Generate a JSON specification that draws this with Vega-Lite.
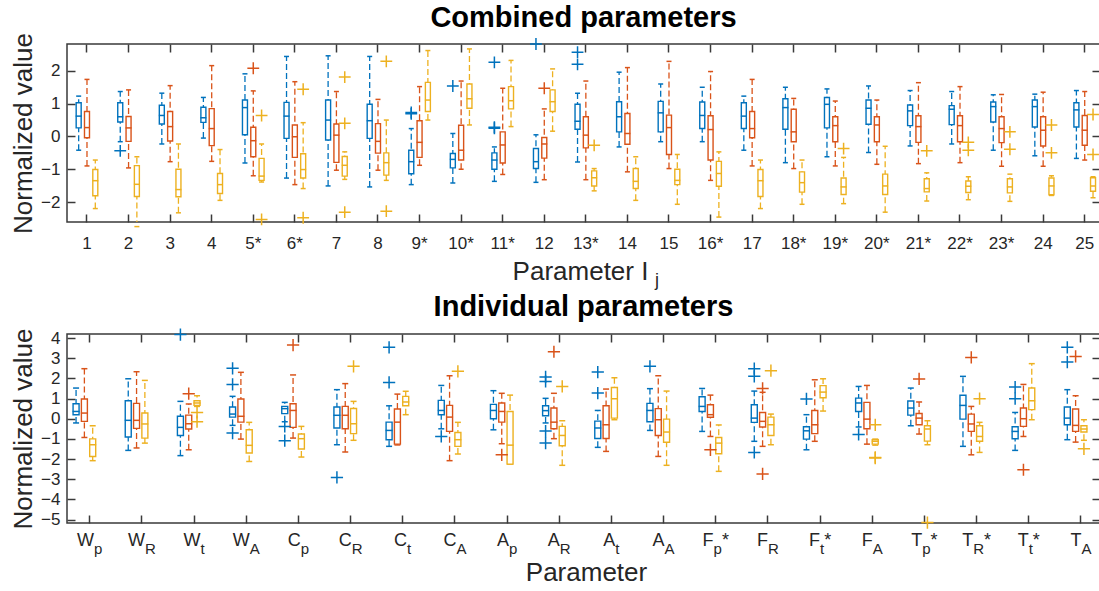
{
"$schema":"https://vega.github.io/schema/vega-lite/v6.json",
"padding":{"left":9,"top":2,"right":0,"bottom":0},
"background":"white",
"config":{"font":"Liberation Sans","view":{"stroke":"#3a3a3a","strokeWidth":1.5},"axis":{"grid":false,"labelFont":"Liberation Sans","titleFont":"Liberation Sans","labelColor":"#262626","titleColor":"#262626","titleFontWeight":"normal","tickColor":"#3a3a3a","tickWidth":1.5,"domain":false,"labelAngle":0,"labelOverlap":false,"labelFlush":false},"title":{"font":"Liberation Sans"}},
"datasets":{
"topStats":[
{"p":"1","s":"S1","lo":-0.42,"q1":0.26,"med":0.62,"q3":1.03,"hi":1.23},
{"p":"1","s":"S2","lo":-0.9,"q1":-0.04,"med":0.27,"q3":0.76,"hi":1.74},
{"p":"1","s":"S3","lo":-2.2,"q1":-1.81,"med":-1.35,"q3":-1.01,"hi":-0.72},
{"p":"2","s":"S1","lo":-0.16,"q1":0.44,"med":0.6,"q3":1.03,"hi":1.37},
{"p":"2","s":"S2","lo":-0.96,"q1":-0.15,"med":0.26,"q3":0.61,"hi":1.42},
{"p":"2","s":"S3","lo":-2.75,"q1":-1.83,"med":-1.46,"q3":-0.89,"hi":-0.62},
{"p":"3","s":"S1","lo":-0.23,"q1":0.38,"med":0.64,"q3":0.95,"hi":1.32},
{"p":"3","s":"S2","lo":-0.77,"q1":-0.14,"med":0.3,"q3":0.76,"hi":1.55},
{"p":"3","s":"S3","lo":-2.33,"q1":-1.84,"med":-1.62,"q3":-1.0,"hi":-0.23},
{"p":"4","s":"S1","lo":-0.05,"q1":0.43,"med":0.57,"q3":0.89,"hi":1.19},
{"p":"4","s":"S2","lo":-0.76,"q1":-0.28,"med":0.24,"q3":0.85,"hi":2.16},
{"p":"4","s":"S3","lo":-1.95,"q1":-1.74,"med":-1.47,"q3":-1.13,"hi":-0.4},
{"p":"5*","s":"S1","lo":-0.81,"q1":0.05,"med":0.88,"q3":1.11,"hi":1.91},
{"p":"5*","s":"S2","lo":-1.2,"q1":-0.62,"med":-0.13,"q3":0.28,"hi":1.39},
{"p":"5*","s":"S3","lo":-1.39,"q1":-1.34,"med":-1.21,"q3":-0.67,"hi":-0.23},
{"p":"6*","s":"S1","lo":-1.27,"q1":-0.06,"med":0.62,"q3":1.04,"hi":2.44},
{"p":"6*","s":"S2","lo":-1.47,"q1":-0.64,"med":-0.01,"q3":0.35,"hi":1.67},
{"p":"6*","s":"S3","lo":-1.59,"q1":-1.27,"med":-1.01,"q3":-0.53,"hi":0.42},
{"p":"7","s":"S1","lo":-1.51,"q1":-0.11,"med":0.5,"q3":1.11,"hi":2.46},
{"p":"7","s":"S2","lo":-1.03,"q1":-0.79,"med":0.04,"q3":0.38,"hi":1.37},
{"p":"7","s":"S3","lo":-1.31,"q1":-1.21,"med":-0.88,"q3":-0.61,"hi":-0.47},
{"p":"8","s":"S1","lo":-1.54,"q1":-0.06,"med":0.48,"q3":0.98,"hi":2.44},
{"p":"8","s":"S2","lo":-1.03,"q1":-0.51,"med":-0.15,"q3":0.39,"hi":1.13},
{"p":"8","s":"S3","lo":-1.34,"q1":-1.18,"med":-0.8,"q3":-0.5,"hi":0.5},
{"p":"9*","s":"S1","lo":-1.47,"q1":-1.14,"med":-0.77,"q3":-0.42,"hi":0.24},
{"p":"9*","s":"S2","lo":-0.88,"q1":-0.64,"med":-0.18,"q3":0.48,"hi":1.52},
{"p":"9*","s":"S3","lo":0.5,"q1":0.76,"med":1.11,"q3":1.65,"hi":2.62},
{"p":"10*","s":"S1","lo":-1.42,"q1":-0.96,"med":-0.7,"q3":-0.52,"hi":0.09},
{"p":"10*","s":"S2","lo":-1.0,"q1":-0.72,"med":-0.42,"q3":0.34,"hi":1.69},
{"p":"10*","s":"S3","lo":0.35,"q1":0.86,"med":1.15,"q3":1.6,"hi":2.67},
{"p":"11*","s":"S1","lo":-1.37,"q1":-1.0,"med":-0.72,"q3":-0.5,"hi":-0.32},
{"p":"11*","s":"S2","lo":-1.16,"q1":-0.81,"med":-0.26,"q3":0.14,"hi":1.47},
{"p":"11*","s":"S3","lo":0.3,"q1":0.84,"med":1.09,"q3":1.52,"hi":2.32},
{"p":"12","s":"S1","lo":-1.4,"q1":-0.98,"med":-0.77,"q3":-0.37,"hi":0.05},
{"p":"12","s":"S2","lo":-1.32,"q1":-0.66,"med":-0.23,"q3":-0.03,"hi":0.84},
{"p":"12","s":"S3","lo":0.16,"q1":0.76,"med":1.06,"q3":1.42,"hi":2.06},
{"p":"13*","s":"S1","lo":-0.78,"q1":0.22,"med":0.46,"q3":0.98,"hi":1.32},
{"p":"13*","s":"S2","lo":-1.32,"q1":-0.35,"med":0.04,"q3":0.6,"hi":1.69},
{"p":"13*","s":"S3","lo":-1.66,"q1":-1.51,"med":-1.26,"q3":-1.05,"hi":-0.98},
{"p":"14","s":"S1","lo":-0.32,"q1":0.14,"med":0.6,"q3":1.06,"hi":1.96},
{"p":"14","s":"S2","lo":-1.08,"q1":-0.24,"med":0.09,"q3":0.7,"hi":2.1},
{"p":"14","s":"S3","lo":-1.95,"q1":-1.59,"med":-1.37,"q3":-0.98,"hi":-0.62},
{"p":"15","s":"S1","lo":-0.16,"q1":0.14,"med":0.72,"q3":1.07,"hi":1.6},
{"p":"15","s":"S2","lo":-0.98,"q1":-0.55,"med":0.27,"q3":0.65,"hi":2.29},
{"p":"15","s":"S3","lo":-2.07,"q1":-1.47,"med":-1.34,"q3":-1.0,"hi":-0.55},
{"p":"16*","s":"S1","lo":-0.16,"q1":0.24,"med":0.64,"q3":1.05,"hi":1.5},
{"p":"16*","s":"S2","lo":-1.34,"q1":-0.72,"med":0.21,"q3":0.63,"hi":1.98},
{"p":"16*","s":"S3","lo":-2.46,"q1":-1.52,"med":-1.13,"q3":-0.76,"hi":-0.47},
{"p":"17","s":"S1","lo":-0.42,"q1":0.24,"med":0.62,"q3":1.03,"hi":1.23},
{"p":"17","s":"S2","lo":-0.9,"q1":-0.04,"med":0.24,"q3":0.76,"hi":1.74},
{"p":"17","s":"S3","lo":-2.2,"q1":-1.83,"med":-1.35,"q3":-1.01,"hi":-0.72},
{"p":"18*","s":"S1","lo":-0.8,"q1":0.22,"med":0.88,"q3":1.15,"hi":1.5},
{"p":"18*","s":"S2","lo":-0.98,"q1":-0.16,"med":0.14,"q3":0.83,"hi":1.16},
{"p":"18*","s":"S3","lo":-2.07,"q1":-1.7,"med":-1.41,"q3":-1.08,"hi":-0.72},
{"p":"19*","s":"S1","lo":-0.62,"q1":0.26,"med":0.98,"q3":1.19,"hi":1.45},
{"p":"19*","s":"S2","lo":-0.9,"q1":-0.16,"med":0.33,"q3":0.6,"hi":1.08},
{"p":"19*","s":"S3","lo":-2.05,"q1":-1.77,"med":-1.54,"q3":-1.27,"hi":-0.64},
{"p":"20*","s":"S1","lo":-0.49,"q1":0.37,"med":0.86,"q3":1.11,"hi":1.54},
{"p":"20*","s":"S2","lo":-0.85,"q1":-0.16,"med":0.35,"q3":0.6,"hi":1.11},
{"p":"20*","s":"S3","lo":-2.31,"q1":-1.77,"med":-1.51,"q3":-1.15,"hi":-0.3},
{"p":"21*","s":"S1","lo":-0.29,"q1":0.33,"med":0.78,"q3":0.96,"hi":1.4},
{"p":"21*","s":"S2","lo":-0.83,"q1":-0.18,"med":0.3,"q3":0.63,"hi":1.64},
{"p":"21*","s":"S3","lo":-1.97,"q1":-1.69,"med":-1.59,"q3":-1.29,"hi":-1.11},
{"p":"22*","s":"S1","lo":-0.23,"q1":0.36,"med":0.83,"q3":0.94,"hi":1.37},
{"p":"22*","s":"S2","lo":-0.8,"q1":-0.16,"med":0.33,"q3":0.63,"hi":1.52},
{"p":"22*","s":"S3","lo":-1.93,"q1":-1.71,"med":-1.52,"q3":-1.36,"hi":-1.23},
{"p":"23*","s":"S1","lo":-0.42,"q1":0.44,"med":0.91,"q3":1.05,"hi":1.27},
{"p":"23*","s":"S2","lo":-0.91,"q1":-0.19,"med":0.24,"q3":0.6,"hi":1.28},
{"p":"23*","s":"S3","lo":-1.98,"q1":-1.72,"med":-1.54,"q3":-1.29,"hi":-1.15},
{"p":"24","s":"S1","lo":-0.59,"q1":0.29,"med":0.91,"q3":1.11,"hi":1.29},
{"p":"24","s":"S2","lo":-0.91,"q1":-0.29,"med":0.19,"q3":0.6,"hi":1.35},
{"p":"24","s":"S3","lo":-1.8,"q1":-1.78,"med":-1.51,"q3":-1.27,"hi":-1.2},
{"p":"25","s":"S1","lo":-0.67,"q1":0.29,"med":0.81,"q3":1.03,"hi":1.4},
{"p":"25","s":"S2","lo":-0.72,"q1":-0.27,"med":0.19,"q3":0.64,"hi":1.37},
{"p":"25","s":"S3","lo":-1.87,"q1":-1.67,"med":-1.51,"q3":-1.26,"hi":-1.23}
],
"topOut":[
{"p":"2","s":"S1","v":-0.44},
{"p":"5*","s":"S2","v":2.08},{"p":"5*","s":"S3","v":0.64},{"p":"5*","s":"S3","v":-2.53},
{"p":"6*","s":"S3","v":1.44},{"p":"6*","s":"S3","v":-2.48},
{"p":"7","s":"S3","v":1.81},{"p":"7","s":"S3","v":0.4},{"p":"7","s":"S3","v":-2.31},
{"p":"8","s":"S3","v":2.29},{"p":"8","s":"S3","v":-2.28},
{"p":"9*","s":"S1","v":0.73},{"p":"9*","s":"S1","v":0.69},
{"p":"10*","s":"S1","v":1.54},
{"p":"11*","s":"S1","v":2.26},{"p":"11*","s":"S1","v":0.28},{"p":"11*","s":"S1","v":0.25},
{"p":"12","s":"S1","v":2.82},{"p":"12","s":"S2","v":1.47},
{"p":"13*","s":"S1","v":2.57},{"p":"13*","s":"S1","v":2.2},{"p":"13*","s":"S3","v":-0.27},
{"p":"19*","s":"S3","v":-0.37},
{"p":"21*","s":"S3","v":-0.44},
{"p":"22*","s":"S3","v":-0.18},{"p":"22*","s":"S3","v":-0.42},
{"p":"23*","s":"S3","v":0.14},{"p":"23*","s":"S3","v":-0.39},
{"p":"24","s":"S3","v":0.35},{"p":"24","s":"S3","v":-0.5},
{"p":"25","s":"S3","v":0.67},{"p":"25","s":"S3","v":-0.55}
],
"botStats":[
{"p":"W_p","s":"S1","lo":-0.21,"q1":0.2,"med":0.36,"q3":0.74,"hi":1.52},
{"p":"W_p","s":"S2","lo":-0.93,"q1":-0.13,"med":0.28,"q3":0.98,"hi":2.48},
{"p":"W_p","s":"S3","lo":-2.08,"q1":-1.87,"med":-1.29,"q3":-1.0,"hi":-0.35},
{"p":"W_R","s":"S1","lo":-1.57,"q1":-0.91,"med":-0.08,"q3":0.89,"hi":1.98},
{"p":"W_R","s":"S2","lo":-1.45,"q1":-0.48,"med":-0.08,"q3":0.76,"hi":2.33},
{"p":"W_R","s":"S3","lo":-1.21,"q1":-0.96,"med":-0.26,"q3":0.28,"hi":1.9},
{"p":"W_t","s":"S1","lo":-1.83,"q1":-0.83,"med":-0.43,"q3":0.12,"hi":0.86},
{"p":"W_t","s":"S2","lo":-1.54,"q1":-0.51,"med":-0.25,"q3":0.18,"hi":0.73},
{"p":"W_t","s":"S3","lo":0.61,"q1":0.66,"med":0.78,"q3":0.89,"hi":1.14},
{"p":"W_A","s":"S1","lo":-0.33,"q1":0.08,"med":0.23,"q3":0.58,"hi":1.11},
{"p":"W_A","s":"S2","lo":-1.01,"q1":-0.17,"med":0.12,"q3":0.98,"hi":2.3},
{"p":"W_A","s":"S3","lo":-2.12,"q1":-1.7,"med":-1.32,"q3":-0.55,"hi":-0.18},
{"p":"C_p","s":"S1","lo":-0.15,"q1":0.25,"med":0.5,"q3":0.61,"hi":0.81},
{"p":"C_p","s":"S2","lo":-0.96,"q1":-0.43,"med":0.41,"q3":0.74,"hi":2.17},
{"p":"C_p","s":"S3","lo":-1.9,"q1":-1.5,"med":-0.99,"q3":-0.76,"hi":-0.38},
{"p":"C_R","s":"S1","lo":-1.29,"q1":-0.46,"med":0.17,"q3":0.58,"hi":1.44},
{"p":"C_R","s":"S2","lo":-1.65,"q1":-0.5,"med":0.17,"q3":0.61,"hi":1.74},
{"p":"C_R","s":"S3","lo":-1.07,"q1":-0.74,"med":-0.25,"q3":0.51,"hi":0.86},
{"p":"C_t","s":"S1","lo":-1.37,"q1":-1.04,"med":-0.58,"q3":-0.17,"hi":0.64},
{"p":"C_t","s":"S2","lo":-1.3,"q1":-1.26,"med":-0.17,"q3":0.48,"hi":1.22},
{"p":"C_t","s":"S3","lo":0.2,"q1":0.64,"med":0.83,"q3":1.11,"hi":1.36},
{"p":"C_A","s":"S1","lo":-0.5,"q1":0.2,"med":0.41,"q3":0.91,"hi":1.65},
{"p":"C_A","s":"S2","lo":-2.08,"q1":-0.63,"med":0.08,"q3":0.66,"hi":2.13},
{"p":"C_A","s":"S3","lo":-1.75,"q1":-1.37,"med":-1.04,"q3":-0.68,"hi":-0.18},
{"p":"A_p","s":"S1","lo":-0.55,"q1":0.0,"med":0.41,"q3":0.71,"hi":1.39},
{"p":"A_p","s":"S2","lo":-1.24,"q1":-0.17,"med":0.36,"q3":0.78,"hi":1.26},
{"p":"A_p","s":"S3","lo":-2.25,"q1":-2.25,"med":-1.31,"q3":0.36,"hi":1.17},
{"p":"A_R","s":"S1","lo":-0.21,"q1":0.15,"med":0.4,"q3":0.64,"hi":1.01},
{"p":"A_R","s":"S2","lo":-0.99,"q1":-0.5,"med":-0.17,"q3":0.53,"hi":1.26},
{"p":"A_R","s":"S3","lo":-2.31,"q1":-1.34,"med":-0.83,"q3":-0.38,"hi":-0.1},
{"p":"A_t","s":"S1","lo":-1.42,"q1":-0.98,"med":-0.46,"q3":-0.12,"hi":0.41},
{"p":"A_t","s":"S2","lo":-1.62,"q1":-0.98,"med":-0.3,"q3":0.64,"hi":1.47},
{"p":"A_t","s":"S3","lo":-0.05,"q1":0.03,"med":0.99,"q3":1.55,"hi":2.03},
{"p":"A_A","s":"S1","lo":-0.58,"q1":-0.15,"med":0.41,"q3":0.76,"hi":1.49},
{"p":"A_A","s":"S2","lo":-1.87,"q1":-0.83,"med":-0.05,"q3":0.5,"hi":2.13},
{"p":"A_A","s":"S3","lo":-2.31,"q1":-1.17,"med":-0.66,"q3":-0.02,"hi":1.37},
{"p":"F_p*","s":"S1","lo":-0.63,"q1":0.36,"med":0.61,"q3":1.09,"hi":1.5},
{"p":"F_p*","s":"S2","lo":-0.88,"q1":0.07,"med":0.2,"q3":0.69,"hi":1.17},
{"p":"F_p*","s":"S3","lo":-2.61,"q1":-1.74,"med":-1.21,"q3":-0.93,"hi":-0.31},
{"p":"F_R","s":"S1","lo":-1.12,"q1":-0.18,"med":0.03,"q3":0.69,"hi":1.37},
{"p":"F_R","s":"S2","lo":-1.37,"q1":-0.41,"med":-0.13,"q3":0.31,"hi":1.31},
{"p":"F_R","s":"S3","lo":-1.29,"q1":-0.83,"med":-0.3,"q3":0.08,"hi":0.23},
{"p":"F_t*","s":"S1","lo":-1.54,"q1":-1.01,"med":-0.6,"q3":-0.4,"hi":0.2},
{"p":"F_t*","s":"S2","lo":-1.12,"q1":-0.74,"med":-0.3,"q3":0.41,"hi":1.93},
{"p":"F_t*","s":"S3","lo":0.38,"q1":1.04,"med":1.32,"q3":1.64,"hi":1.98},
{"p":"F_A","s":"S1","lo":-0.41,"q1":0.36,"med":0.78,"q3":1.02,"hi":1.6},
{"p":"F_A","s":"S2","lo":-1.26,"q1":-0.5,"med":-0.02,"q3":0.81,"hi":1.65},
{"p":"F_A","s":"S3","lo":-1.31,"q1":-1.26,"med":-1.12,"q3":-1.04,"hi":-1.01},
{"p":"T_p*","s":"S1","lo":-0.35,"q1":0.18,"med":0.53,"q3":0.88,"hi":1.52},
{"p":"T_p*","s":"S2","lo":-0.76,"q1":-0.3,"med":0.03,"q3":0.26,"hi":0.83},
{"p":"T_p*","s":"S3","lo":-1.29,"q1":-1.11,"med":-0.51,"q3":-0.35,"hi":-0.1},
{"p":"T_R*","s":"S1","lo":-1.37,"q1":-0.02,"med":0.66,"q3":1.16,"hi":2.1},
{"p":"T_R*","s":"S2","lo":-1.79,"q1":-0.63,"med":-0.26,"q3":0.23,"hi":0.61},
{"p":"T_R*","s":"S3","lo":-1.67,"q1":-1.12,"med":-0.88,"q3":-0.35,"hi":-0.18},
{"p":"T_t*","s":"S1","lo":-1.57,"q1":-0.99,"med":-0.63,"q3":-0.4,"hi":0.31},
{"p":"T_t*","s":"S2","lo":-0.88,"q1":-0.38,"med":0.0,"q3":0.53,"hi":1.7},
{"p":"T_t*","s":"S3","lo":-0.05,"q1":0.45,"med":0.89,"q3":1.52,"hi":2.73},
{"p":"T_A","s":"S1","lo":-1.04,"q1":-0.3,"med":0.03,"q3":0.58,"hi":1.44},
{"p":"T_A","s":"S2","lo":-1.16,"q1":-0.63,"med":-0.33,"q3":0.48,"hi":1.14},
{"p":"T_A","s":"S3","lo":-1.07,"q1":-0.66,"med":-0.51,"q3":-0.35,"hi":-0.05}
],
"botOut":[
{"p":"W_t","s":"S1","v":4.17},{"p":"W_t","s":"S2","v":1.24},{"p":"W_t","s":"S3","v":0.31},{"p":"W_t","s":"S3","v":-0.15},
{"p":"W_A","s":"S1","v":2.5},{"p":"W_A","s":"S1","v":1.7},{"p":"W_A","s":"S1","v":-0.71},
{"p":"C_p","s":"S1","v":-0.38},{"p":"C_p","s":"S1","v":-1.09},{"p":"C_p","s":"S2","v":3.65},
{"p":"C_R","s":"S1","v":-2.91},{"p":"C_R","s":"S3","v":2.6},
{"p":"C_t","s":"S1","v":3.54},{"p":"C_t","s":"S1","v":1.8},
{"p":"C_A","s":"S1","v":-0.88},{"p":"C_A","s":"S3","v":2.35},
{"p":"A_p","s":"S2","v":-1.79},
{"p":"A_R","s":"S1","v":2.07},{"p":"A_R","s":"S1","v":1.85},{"p":"A_R","s":"S1","v":-0.61},{"p":"A_R","s":"S1","v":-1.21},{"p":"A_R","s":"S2","v":3.32},{"p":"A_R","s":"S3","v":1.6},
{"p":"A_t","s":"S1","v":2.31},{"p":"A_t","s":"S1","v":1.27},
{"p":"A_A","s":"S1","v":2.6},
{"p":"F_p*","s":"S2","v":-1.54},
{"p":"F_R","s":"S1","v":2.48},{"p":"F_R","s":"S1","v":2.1},{"p":"F_R","s":"S1","v":-1.67},{"p":"F_R","s":"S2","v":1.5},{"p":"F_R","s":"S2","v":-2.74},{"p":"F_R","s":"S3","v":2.38},
{"p":"F_t*","s":"S1","v":0.98},
{"p":"F_A","s":"S1","v":-0.78},{"p":"F_A","s":"S3","v":-0.3},{"p":"F_A","s":"S3","v":-1.92},{"p":"F_A","s":"S3","v":-1.95},
{"p":"T_p*","s":"S2","v":1.97},{"p":"T_p*","s":"S3","v":-5.15},
{"p":"T_R*","s":"S2","v":3.04},{"p":"T_R*","s":"S3","v":0.99},
{"p":"T_t*","s":"S1","v":1.57},{"p":"T_t*","s":"S1","v":0.99},{"p":"T_t*","s":"S2","v":-2.53},
{"p":"T_A","s":"S1","v":3.54},{"p":"T_A","s":"S1","v":2.81},{"p":"T_A","s":"S2","v":3.09},{"p":"T_A","s":"S3","v":-1.49}
]
},
"spacing":112,
"bounds":"flush",
"vconcat":[
{
"width":1033,"height":178,
"title":{"text":"Combined parameters","fontSize":29,"fontWeight":"bold","color":"#000000","offset":-23,"baseline":"alphabetic","anchor":"middle"},
"resolve":{"axis":{"x":"independent","y":"independent"}},
"layer":[
{"data":{"name":"topStats"},"mark":{"type":"rule","strokeDash":[6,3],"strokeWidth":1.3,"clip":true},
"encoding":{
"x":{"field":"p","type":"nominal","scale":{"type":"band","domain":["1","2","3","4","5*","6*","7","8","9*","10*","11*","12","13*","14","15","16*","17","18*","19*","20*","21*","22*","23*","24","25"],"range":[-0.8,1038.5],"paddingInner":0,"paddingOuter":0},
"axis":{"orient":"bottom","ticks":true,"tickSize":-8,"labelPadding":34,"labelBaseline":"alphabetic","labelFontSize":17,"title":"Parameter I","titleFontSize":26,"titleX":513,"titleY":57,"titleBaseline":"alphabetic","titleAlign":"center"}},
"xOffset":{"field":"s","type":"nominal","scale":{"domain":["S1","S2","S3"],"paddingInner":0,"paddingOuter":1.35}},
"y":{"field":"lo","type":"quantitative","scale":{"domain":[-2.61,2.82],"nice":false,"zero":false},
"axis":{"orient":"left","values":[-2,-1,0,1,2],"tickSize":-8,"labelPadding":15,"labelFontSize":17,"title":"Normalized value","titleFontSize":26,"titleX":-36,"titleBaseline":"alphabetic"}},
"y2":{"field":"hi"},
"color":{"field":"s","type":"nominal","scale":{"domain":["S1","S2","S3"],"range":["#0072BD","#D95319","#EDB120"]},"legend":null}}},
{"data":{"name":"topStats"},"mark":{"type":"tick","size":5,"thickness":1.5,"opacity":1},
"encoding":{
"x":{"field":"p","type":"nominal","axis":{"orient":"bottom","ticks":false,"labels":false,"title":"j","titleFontSize":18,"titleX":589.5,"titleY":63,"titleBaseline":"alphabetic","titleAlign":"center"}},
"xOffset":{"field":"s","type":"nominal"},
"y":{"field":"lo","type":"quantitative","axis":{"orient":"right","values":[-2,-1,0,1,2],"tickSize":-8,"labels":false,"title":null}},
"color":{"field":"s","type":"nominal","legend":null}}},
{"data":{"name":"topStats"},"mark":{"type":"tick","size":5,"thickness":1.5,"opacity":1},
"encoding":{
"x":{"field":"p","type":"nominal","axis":{"orient":"top","ticks":true,"tickSize":-8,"labels":false,"title":null}},
"xOffset":{"field":"s","type":"nominal"},
"y":{"field":"hi","type":"quantitative","axis":null},
"color":{"field":"s","type":"nominal","legend":null}}},
{"data":{"name":"topStats"},"mark":{"type":"bar","width":5,"fill":"white","strokeWidth":1.4},
"encoding":{
"x":{"field":"p","type":"nominal","axis":null},
"xOffset":{"field":"s","type":"nominal"},
"y":{"field":"q1","type":"quantitative","axis":null},
"y2":{"field":"q3"},
"stroke":{"field":"s","type":"nominal","scale":{"domain":["S1","S2","S3"],"range":["#0072BD","#D95319","#EDB120"]},"legend":null}}},
{"data":{"name":"topStats"},"mark":{"type":"tick","size":6,"thickness":1.5,"opacity":1},
"encoding":{
"x":{"field":"p","type":"nominal","axis":null},
"xOffset":{"field":"s","type":"nominal"},
"y":{"field":"med","type":"quantitative","axis":null},
"color":{"field":"s","type":"nominal","legend":null}}},
{"data":{"name":"topOut"},"mark":{"type":"point","shape":"M-1,0H1M0,-1V1","filled":false,"size":140,"strokeWidth":1.5,"opacity":1},
"encoding":{
"x":{"field":"p","type":"nominal","axis":null},
"xOffset":{"field":"s","type":"nominal"},
"y":{"field":"v","type":"quantitative","axis":null},
"color":{"field":"s","type":"nominal","legend":null}}}
]
},
{
"width":1033,"height":189,
"title":{"text":"Individual parameters","fontSize":29,"fontWeight":"bold","color":"#000000","offset":-19.5,"baseline":"alphabetic","anchor":"middle"},
"resolve":{"axis":{"x":"independent","y":"independent"}},
"layer":[
{"data":{"name":"botStats"},"mark":{"type":"rule","strokeDash":[6,3],"strokeWidth":1.3,"clip":true},
"encoding":{
"x":{"field":"p","type":"nominal","scale":{"type":"band","domain":["W_p","W_R","W_t","W_A","C_p","C_R","C_t","C_A","A_p","A_R","A_t","A_A","F_p*","F_R","F_t*","F_A","T_p*","T_R*","T_t*","T_A"],"range":[-3.4,1040],"paddingInner":0,"paddingOuter":0},
"axis":{"orient":"bottom","ticks":true,"tickSize":-8,"labelPadding":30,"labelBaseline":"alphabetic","labelFontSize":18,"labelAlign":"right","labelExpr":"substring(datum.value,0,1)","labelOffset":{"expr":"([17,13,12,11,11][indexof('WCAFT', substring(datum.value,0,1))] - [8.3,10.8,4.2,10][indexof('pRtA', substring(datum.value,2,3))] - (indexof(datum.value,'*') >= 0 ? 7 : 0)) / 2"},"title":"Parameter","titleFontSize":26,"titleX":519,"titleY":57,"titleBaseline":"alphabetic","titleAlign":"center"}},
"xOffset":{"field":"s","type":"nominal","scale":{"domain":["S1","S2","S3"],"paddingInner":0,"paddingOuter":1.275}},
"y":{"field":"lo","type":"quantitative","scale":{"domain":[-5.17,4.2],"nice":false,"zero":false},
"axis":{"orient":"left","values":[-5,-4,-3,-2,-1,0,1,2,3,4],"tickSize":-8,"labelPadding":15,"labelFontSize":17,"title":"Normalized value","titleFontSize":26,"titleX":-36,"titleBaseline":"alphabetic"}},
"y2":{"field":"hi"},
"color":{"field":"s","type":"nominal","scale":{"domain":["S1","S2","S3"],"range":["#0072BD","#D95319","#EDB120"]},"legend":null}}},
{"data":{"name":"botStats"},"mark":{"type":"tick","size":6,"thickness":1.5,"opacity":1},
"encoding":{
"x":{"field":"p","type":"nominal","axis":{"orient":"bottom","ticks":false,"labelPadding":30,"labelBaseline":"alphabetic","labelFontSize":15,"labelAlign":"left","labelExpr":"substring(datum.value,2,3)","labelOffset":{"expr":"([17,13,12,11,11][indexof('WCAFT', substring(datum.value,0,1))] - [8.3,10.8,4.2,10][indexof('pRtA', substring(datum.value,2,3))] - (indexof(datum.value,'*') >= 0 ? 7 : 0)) / 2"},"title":null}},
"xOffset":{"field":"s","type":"nominal"},
"y":{"field":"lo","type":"quantitative","axis":{"orient":"right","values":[-5,-4,-3,-2,-1,0,1,2,3,4],"tickSize":-8,"labels":false,"title":null}},
"color":{"field":"s","type":"nominal","legend":null}}},
{"data":{"name":"botStats"},"mark":{"type":"tick","size":6,"thickness":1.5,"opacity":1},
"encoding":{
"x":{"field":"p","type":"nominal","axis":{"orient":"bottom","ticks":false,"labelPadding":22,"labelBaseline":"alphabetic","labelFontSize":18,"labelAlign":"left","labelExpr":"indexof(datum.value,'*') >= 0 ? '*' : ''","labelOffset":{"expr":"([17,13,12,11,11][indexof('WCAFT', substring(datum.value,0,1))] + [8.3,10.8,4.2,10][indexof('pRtA', substring(datum.value,2,3))] - (indexof(datum.value,'*') >= 0 ? 7 : 0)) / 2"},"title":null}},
"xOffset":{"field":"s","type":"nominal"},
"y":{"field":"hi","type":"quantitative","axis":null},
"color":{"field":"s","type":"nominal","legend":null}}},
{"data":{"name":"botStats"},"mark":{"type":"bar","width":6,"fill":"white","strokeWidth":1.4},
"encoding":{
"x":{"field":"p","type":"nominal","axis":{"orient":"top","ticks":true,"tickSize":-8,"labels":false,"title":null}},
"xOffset":{"field":"s","type":"nominal"},
"y":{"field":"q1","type":"quantitative","axis":null},
"y2":{"field":"q3"},
"stroke":{"field":"s","type":"nominal","scale":{"domain":["S1","S2","S3"],"range":["#0072BD","#D95319","#EDB120"]},"legend":null}}},
{"data":{"name":"botStats"},"mark":{"type":"tick","size":7,"thickness":1.5,"opacity":1},
"encoding":{
"x":{"field":"p","type":"nominal","axis":null},
"xOffset":{"field":"s","type":"nominal"},
"y":{"field":"med","type":"quantitative","axis":null},
"color":{"field":"s","type":"nominal","legend":null}}},
{"data":{"name":"botOut"},"mark":{"type":"point","shape":"M-1,0H1M0,-1V1","filled":false,"size":150,"strokeWidth":1.5,"opacity":1},
"encoding":{
"x":{"field":"p","type":"nominal","axis":null},
"xOffset":{"field":"s","type":"nominal"},
"y":{"field":"v","type":"quantitative","axis":null},
"color":{"field":"s","type":"nominal","legend":null}}}
]
}
]
}
